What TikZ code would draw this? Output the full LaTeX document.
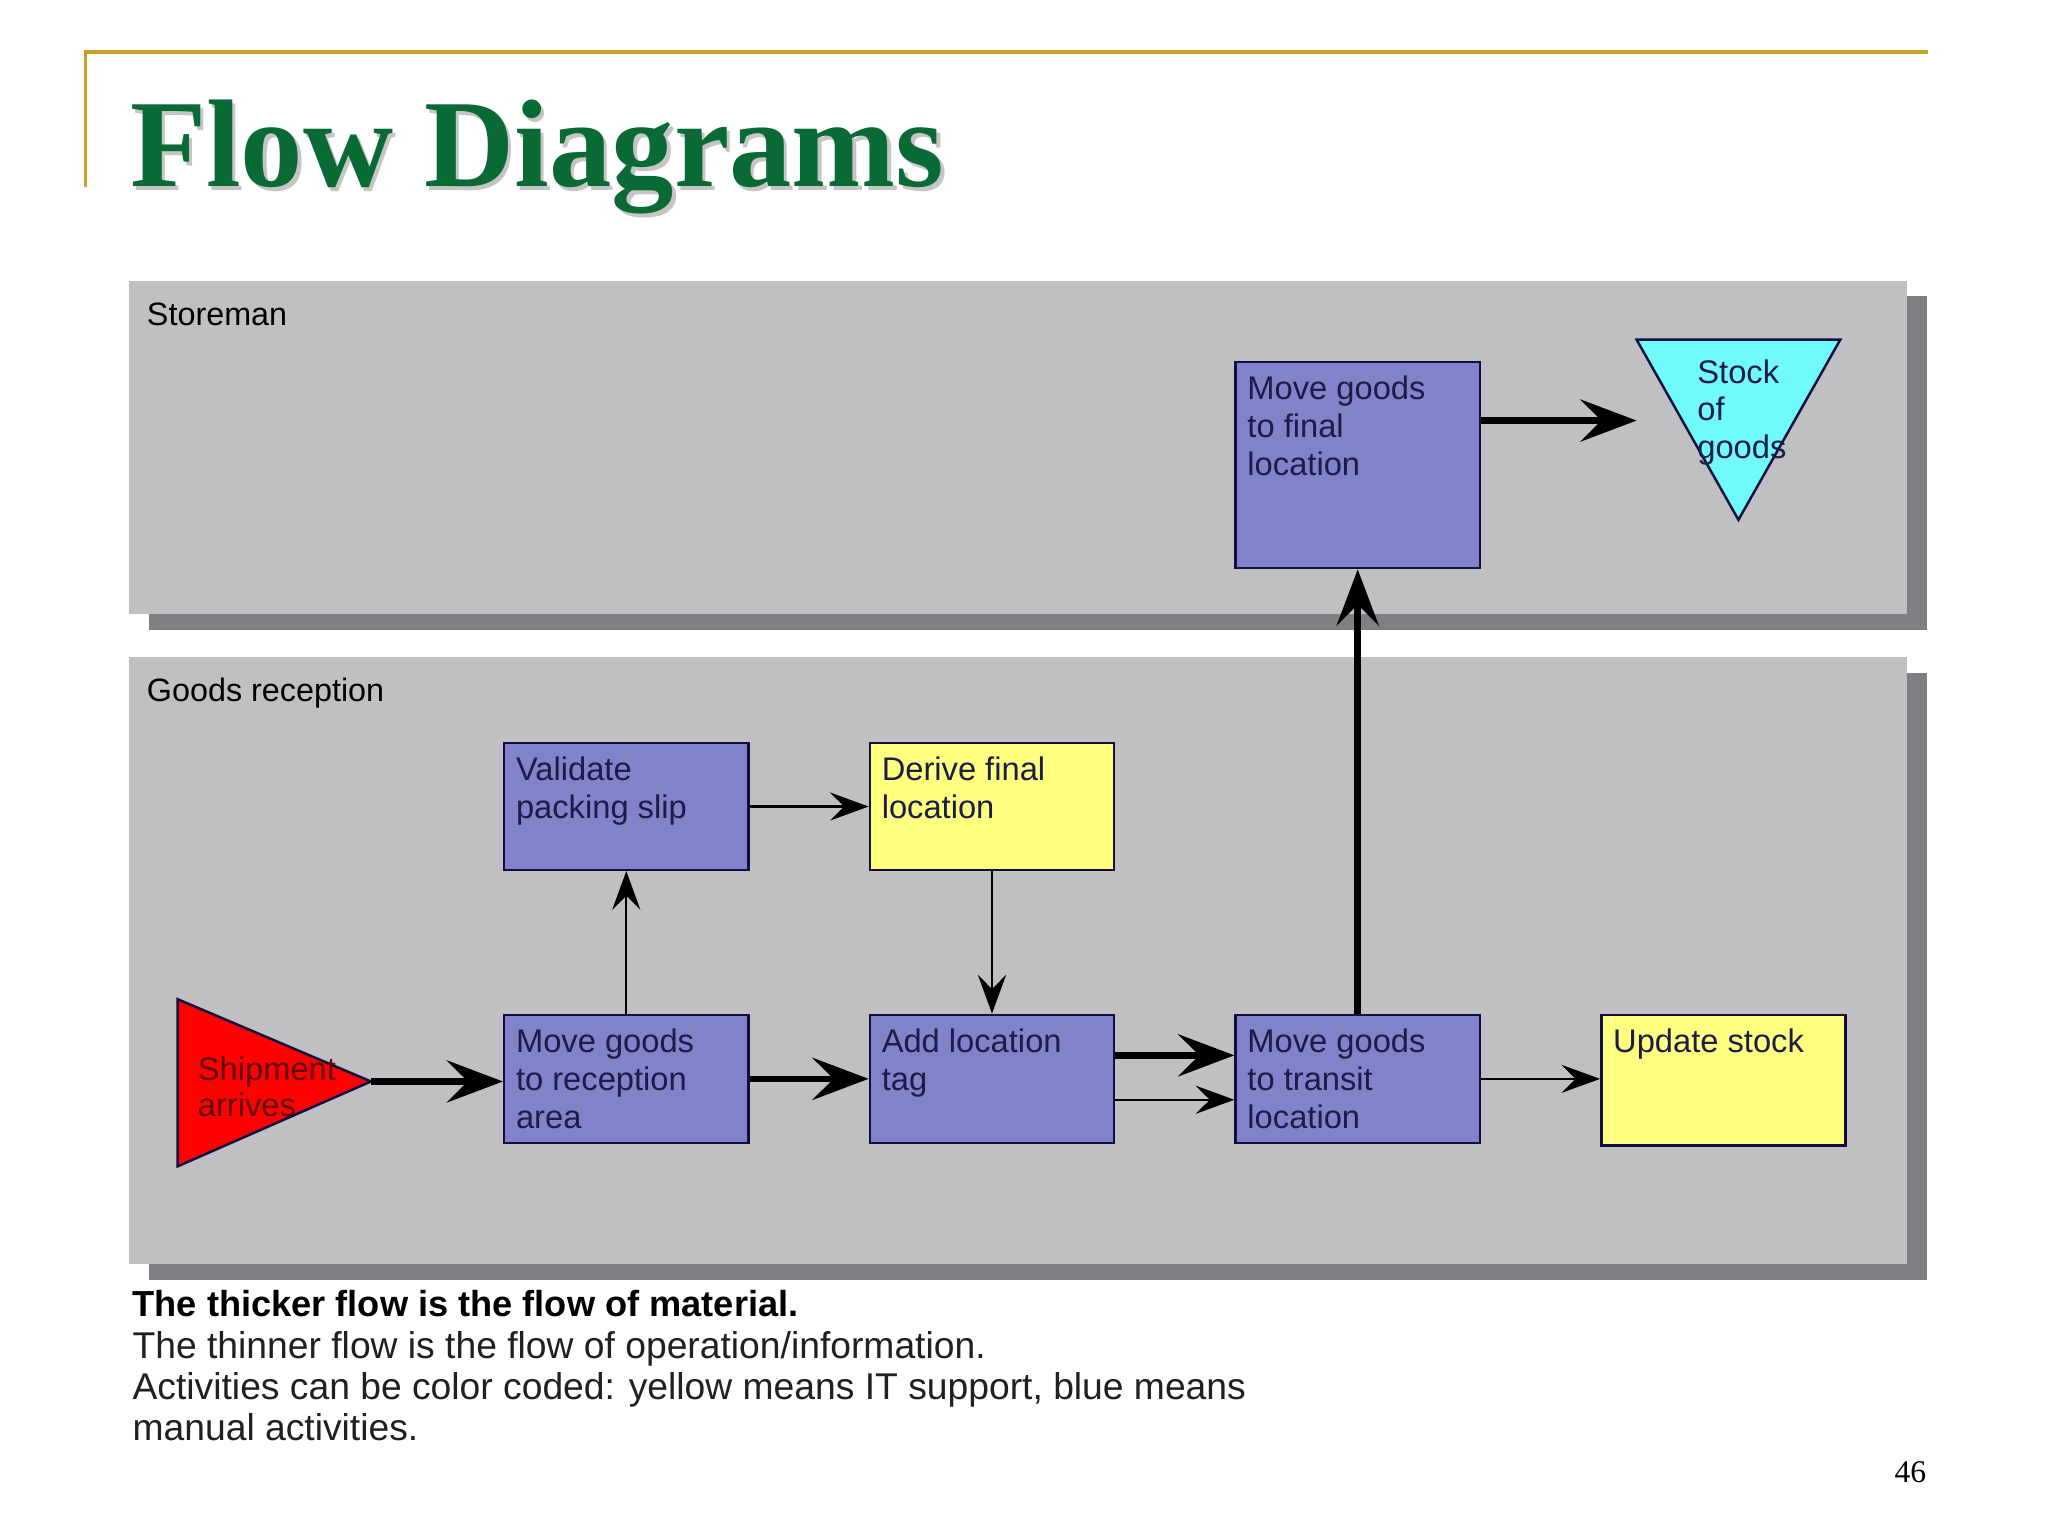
\documentclass[tikz,border=0pt]{standalone}
\usepackage{fontspec}
\setmainfont{Liberation Sans}
\newfontfamily\titlefont{Liberation Serif}
\usetikzlibrary{arrows.meta,calc,fit}
\definecolor{lanegray}{HTML}{C0BFC2}
\definecolor{shadowgray}{HTML}{807F83}
\definecolor{boxblue}{HTML}{8282CA}
\definecolor{boxyellow}{HTML}{FFFF80}
\definecolor{stockcyan}{HTML}{70FAFA}
\definecolor{boxedge}{HTML}{101040}
\definecolor{boxtextcol}{HTML}{1C1C48}
\definecolor{titlegreen}{HTML}{0A6A36}
\definecolor{goldline}{HTML}{C9A227}
\definecolor{captioncol}{HTML}{202020}
\definecolor{shiptext}{HTML}{5E0808}
\begin{document}
\begin{tikzpicture}[x=0.013061cm,y=-0.013061cm,
  bluebox/.style={draw=boxedge, line width=0.7pt, fill=boxblue, inner sep=0pt},
  yellowbox/.style={draw=boxedge, line width=0.7pt, fill=boxyellow, inner sep=0pt},
  boxtext/.style={anchor=north west, inner sep=0pt, align=left, font=\fontsize{9.3}{10.8}\selectfont, text=boxtextcol},
  thickflow/.style={line width=1.9pt, -{Stealth[length=16pt,width=12pt,inset=6pt]}},
  thinflow/.style={line width=0.6pt, -{Stealth[length=11pt,width=8pt,inset=4pt]}},
  lanelabel/.style={anchor=base west, inner sep=0pt, font=\fontsize{9.2}{11}\selectfont, text=black},
  captionline/.style={anchor=base west, inner sep=0pt, font=\fontsize{10.6}{12}\selectfont, text=captioncol}
]
\useasboundingbox (0,0) rectangle (1568,1176);
\fill[white] (0,0) rectangle (1568,1176);

% header rule
\draw[goldline, line width=1.1pt] (65.5,143) -- (65.5,40) -- (1476,40);

% title with soft shadow
\node[anchor=base west, inner sep=0pt, font=\titlefont\bfseries\fontsize{35.5}{40}\selectfont, text=gray, opacity=0.45] (titleshadow) at (101.5,146) {Flow Diagrams};
\node[anchor=base west, inner sep=0pt, font=\titlefont\bfseries\fontsize{35.5}{40}\selectfont, text=titlegreen] (title) at (99,143) {Flow Diagrams};

% swim lanes
\fill[shadowgray] (114,227) rectangle (1475,482);
\fill[lanegray] (99,215) rectangle (1460,470);
\fill[shadowgray] (114,515) rectangle (1475,980);
\fill[lanegray] (99,503) rectangle (1460,968);
\node[lanelabel] (lane1) at (112,249) {Storeman};
\node[lanelabel] (lane2) at (112,537) {Goods reception};

% activity boxes
\node[bluebox, fit={(946,277) (1133,435)}] (final) {};
\node[bluebox, fit={(386,569) (573,666)}] (validate) {};
\node[yellowbox, fit={(666,569) (853,666)}] (derive) {};
\node[bluebox, fit={(386,777) (573,875)}] (reception) {};
\node[bluebox, fit={(666,777) (853,875)}] (addtag) {};
\node[bluebox, fit={(946,777) (1133,875)}] (transit) {};
\node[yellowbox, fit={(1226,777) (1413,877)}] (update) {};

\node[boxtext] (finalt) at ($(final.north west)+(9.5,11)$) {Move goods\\to final\\location};
\node[boxtext] (validatet) at ($(validate.north west)+(9.5,11)$) {Validate\\packing slip};
\node[boxtext] (derivet) at ($(derive.north west)+(9.5,11)$) {Derive final\\location};
\node[boxtext] (receptiont) at ($(reception.north west)+(9.5,11)$) {Move goods\\to reception\\area};
\node[boxtext] (addtagt) at ($(addtag.north west)+(9.5,11)$) {Add location\\tag};
\node[boxtext] (transitt) at ($(transit.north west)+(9.5,11)$) {Move goods\\to transit\\location};
\node[boxtext] (updatet) at ($(update.north west)+(9.5,11)$) {Update stock};

% stock of goods (inverted triangle)
\coordinate (stA) at (1253,260);
\coordinate (stB) at (1409,260);
\coordinate (stC) at (1331,398);
\coordinate (stIn) at (1253,322);
\draw[boxedge, line width=0.7pt, fill=stockcyan] (stA) -- (stB) -- (stC) -- cycle;
\node[boxtext, font=\fontsize{9.3}{10.6}\selectfont] (stockt) at (1299,275) {Stock\\of\\goods};

% shipment arrives (triangle)
\coordinate (shA) at (136,765);
\coordinate (shB) at (136,893);
\coordinate (shC) at (284,828);
\draw[boxedge, line width=0.7pt, fill=red] (shA) -- (shC) -- (shB) -- cycle;
\node[boxtext, text=shiptext, font=\fontsize{9.3}{10.4}\selectfont] (shipt) at (151,808.5) {Shipment\\arrives};

% material flows (thick)
\draw[thickflow] (shC) -- (shC -| reception.west);
\draw[thickflow] (reception.east) -- (addtag.west);
\draw[thickflow] ($(addtag.east)+(0,-18)$) -- ($(transit.west)+(0,-18)$);
\draw[thickflow] (transit.north) -- (final.south);
\draw[thickflow] (final.east |- stIn) -- (stIn);

% operation / information flows (thin)
\draw[thinflow] (reception.north) -- (validate.south);
\draw[thinflow] (validate.east) -- (derive.west);
\draw[thinflow] (derive.south) -- (addtag.north);
\draw[thinflow] ($(addtag.east)+(0,16)$) -- ($(transit.west)+(0,16)$);
\draw[thinflow] (transit.east) -- (transit.east -| update.west);

% caption
\node[captionline, font=\bfseries\fontsize{10.3}{12}\selectfont, text=black] (cap1) at (101,1008) {The thicker flow is the flow of material.};
\node[captionline] (cap2) at (101,1040) {The thinner flow is the flow of operation/information.};
\node[captionline] (cap3) at (101,1071.5) {Activities can be color coded: yellow means IT support, blue means};
\node[captionline] (cap4) at (101,1103) {manual activities.};

% page number
\node[anchor=base west, inner sep=0pt, font=\titlefont\fontsize{9}{10}\selectfont] (pagenum) at (1450,1135) {46};
\end{tikzpicture}
\end{document}
